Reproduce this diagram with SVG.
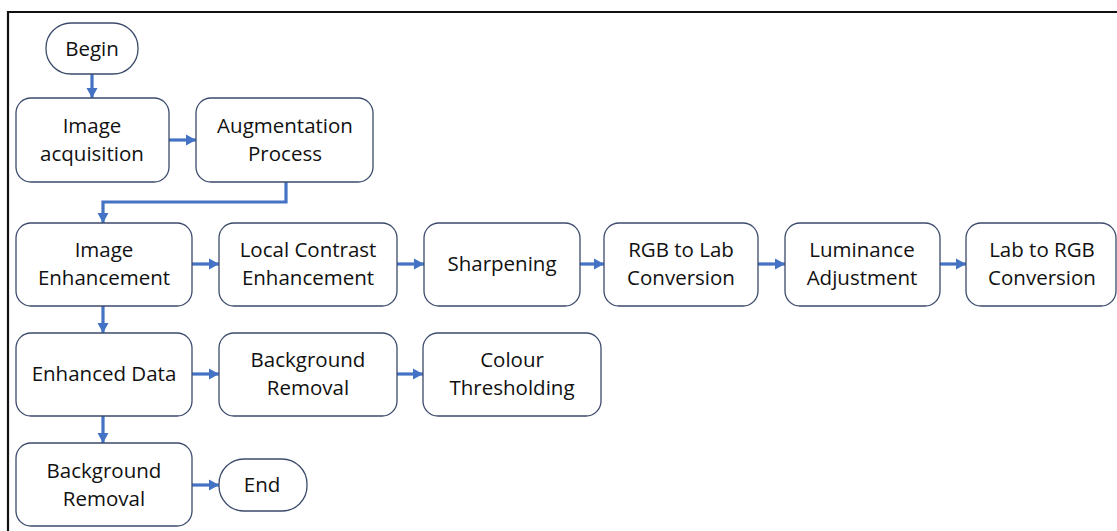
<svg xmlns="http://www.w3.org/2000/svg" width="1117" height="531" viewBox="0 0 1117 531">
<defs>
<marker id="ah" markerUnits="userSpaceOnUse" markerWidth="12" markerHeight="12" refX="10" refY="6" orient="auto">
<path d="M0,0.5 L10,6 L0,11.5 Z" fill="#4472C4"/>
</marker>
<style>
.box{fill:#fff;stroke:#3C4B6B;stroke-width:1.3}
.t{font-family:"Open Sans","Liberation Sans",sans-serif;font-size:20.5px;fill:#111;text-anchor:middle}
.c{fill:none;stroke:#4472C4;stroke-width:3.2;marker-end:url(#ah)}
</style>
</defs>
<rect x="0" y="0" width="1117" height="531" fill="#fff"/>
<path d="M8,531 V12 H1117" fill="none" stroke="#111" stroke-width="2.2"/>
<g id="connectors">
<line class="c" x1="92" y1="74" x2="92" y2="98"/>
<line class="c" x1="169" y1="140" x2="196" y2="140"/>
<polyline class="c" points="286,182 286,202 103,202 103,223"/>
<line class="c" x1="192" y1="264" x2="219" y2="264"/>
<line class="c" x1="397" y1="264" x2="424" y2="264"/>
<line class="c" x1="580" y1="264" x2="604" y2="264"/>
<line class="c" x1="758" y1="264" x2="785" y2="264"/>
<line class="c" x1="940" y1="264" x2="966" y2="264"/>
<line class="c" x1="103" y1="306" x2="103" y2="333"/>
<line class="c" x1="192" y1="374" x2="219" y2="374"/>
<line class="c" x1="397" y1="374" x2="423" y2="374"/>
<line class="c" x1="103" y1="416" x2="103" y2="443"/>
<line class="c" x1="192" y1="485" x2="219" y2="485"/>
</g>
<g id="begin"><rect class="box" x="46" y="23" width="92" height="51" rx="25"/><text class="t" x="92" y="56">Begin</text></g>
<g id="acq"><rect class="box" x="16" y="98" width="153" height="84" rx="15"/><text class="t" x="92" y="133">Image</text><text class="t" x="92" y="161">acquisition</text></g>
<g id="aug"><rect class="box" x="196" y="98" width="177" height="84" rx="15"/><text class="t" x="285" y="133">Augmentation</text><text class="t" x="285" y="161">Process</text></g>
<g id="enh"><rect class="box" x="16" y="223" width="176" height="83" rx="15"/><text class="t" x="104" y="257">Image</text><text class="t" x="104" y="285">Enhancement</text></g>
<g id="lce"><rect class="box" x="219" y="223" width="178" height="83" rx="15"/><text class="t" x="308" y="257">Local Contrast</text><text class="t" x="308" y="285">Enhancement</text></g>
<g id="sharp"><rect class="box" x="424" y="223" width="156" height="83" rx="15"/><text class="t" x="502" y="271">Sharpening</text></g>
<g id="rgb2lab"><rect class="box" x="604" y="223" width="154" height="83" rx="15"/><text class="t" x="681" y="257">RGB to Lab</text><text class="t" x="681" y="285">Conversion</text></g>
<g id="lum"><rect class="box" x="785" y="223" width="155" height="83" rx="15"/><text class="t" x="862" y="257">Luminance</text><text class="t" x="862" y="285">Adjustment</text></g>
<g id="lab2rgb"><rect class="box" x="966" y="223" width="150" height="83" rx="15"/><text class="t" x="1042" y="257">Lab to RGB</text><text class="t" x="1042" y="285">Conversion</text></g>
<g id="data"><rect class="box" x="16" y="333" width="176" height="83" rx="15"/><text class="t" x="104" y="381">Enhanced Data</text></g>
<g id="bg1"><rect class="box" x="219" y="333" width="178" height="83" rx="15"/><text class="t" x="308" y="367">Background</text><text class="t" x="308" y="395">Removal</text></g>
<g id="colour"><rect class="box" x="423" y="333" width="178" height="83" rx="15"/><text class="t" x="512" y="367">Colour</text><text class="t" x="512" y="395">Thresholding</text></g>
<g id="bg2"><rect class="box" x="16" y="443" width="176" height="83" rx="15"/><text class="t" x="104" y="478">Background</text><text class="t" x="104" y="506">Removal</text></g>
<g id="end"><rect class="box" x="219" y="459" width="88" height="52" rx="25"/><text class="t" x="262" y="492">End</text></g>
</svg>
